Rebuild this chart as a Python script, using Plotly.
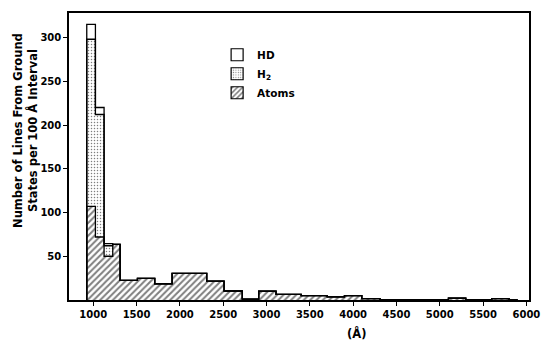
import plotly.graph_objects as go

# Wavelength bin edges (Å) and counts per bin
bin_edges = [925, 1025, 1125, 1225, 1310, 1510, 1710, 1910, 2310, 2510, 2720,
             2910, 3110, 3400, 3700, 3900, 4100, 4310, 5100, 5300, 5600, 5800, 5900]
atoms = [107, 72, 50, 63.5, 22.5, 24.7, 18.6, 30.4, 21.6, 10.3,
         1, 10, 6.5, 5, 3.5, 5, 1.5, 0.5, 2, 0.3, 1.5, 0]
h2 = [191, 140, 12, 0, 0, 0, 0, 0, 0, 0,
      0, 0, 0, 0, 0, 0, 0, 0, 0, 0, 0, 0]
hd = [17, 8, 2.5, 0, 0, 0, 0, 0, 0, 0,
      0, 0, 0, 0, 0, 0, 0, 0, 0, 0, 0, 0]

x_ticks = [1000, 1500, 2000, 2500, 3000, 3500, 4000, 4500, 5000, 5500, 6000]
y_ticks = [50, 100, 150, 200, 250, 300]

centers = [(a + b) / 2 for a, b in zip(bin_edges[:-1], bin_edges[1:])]
widths = [b - a for a, b in zip(bin_edges[:-1], bin_edges[1:])]

FONT = "DejaVu Sans"
BOLD = dict(family=FONT, size=10, color="black", weight="bold")

hatch = dict(shape="/", size=4.5, solidity=0.45, fgcolor="black", bgcolor="white",
             fillmode="overlay")
dots = dict(shape=".", size=3, solidity=0.2, fgcolor="black", bgcolor="white",
            fillmode="overlay")

fig = go.Figure()
# filled bars (no outline; outlines drawn as step lines below)
for vals, pat in ((atoms, hatch), (h2, dots), (hd, None)):
    m = dict(color="white", line=dict(width=0))
    if pat:
        m["pattern"] = pat
    fig.add_trace(go.Bar(x=centers, y=vals, width=widths, marker=m,
                         showlegend=False, hoverinfo="skip"))


def step_outline(levels):
    xs, ys = [bin_edges[0]], [0]
    for i, v in enumerate(levels):
        xs += [bin_edges[i], bin_edges[i + 1]]
        ys += [v, v]
    xs.append(bin_edges[-1])
    ys.append(0)
    return xs, ys


cum1 = atoms
cum2 = [a + b for a, b in zip(atoms, h2)]
cum3 = [a + b + c for a, b, c in zip(atoms, h2, hd)]
for lev in (cum1, cum2, cum3):
    xs, ys = step_outline(lev)
    fig.add_trace(go.Scatter(x=xs, y=ys, mode="lines",
                             line=dict(color="black", width=1.3),
                             showlegend=False, hoverinfo="skip"))

# legend entries
for name, pat in (("Atoms", hatch), ("H<sub>2</sub>", dots), ("HD", None)):
    m = dict(color="white", line=dict(color="black", width=1.2))
    if pat:
        m["pattern"] = pat
    fig.add_trace(go.Bar(x=[None], y=[None], name=name, marker=m))

fig.update_layout(
    width=551, height=340,
    margin=dict(l=69, r=17, t=11, b=40),
    barmode="stack", bargap=0,
    paper_bgcolor="white", plot_bgcolor="white",
    font=BOLD,
    showlegend=True,
    legend=dict(x=0.322, y=0.905, xanchor="left", yanchor="top",
                traceorder="reversed", bgcolor="rgba(0,0,0,0)",
                font=dict(family=FONT, size=10.5, color="black", weight="bold"),
                itemwidth=30, tracegroupgap=0),
    xaxis=dict(range=[720, 6030], tickvals=x_ticks,
               ticktext=[str(v) for v in x_ticks],
               ticks="outside", ticklen=4, tickwidth=1.2, tickcolor="black",
               showline=True, linecolor="black", linewidth=1.5, mirror=True,
               showgrid=False, zeroline=False, tickfont=BOLD),
    yaxis=dict(range=[0, 328], tickvals=y_ticks,
               ticktext=[str(v) for v in y_ticks],
               ticks="outside", ticklen=4, tickwidth=1.2, tickcolor="black",
               showline=True, linecolor="black", linewidth=1.5, mirror=True,
               showgrid=False, zeroline=False, tickfont=BOLD),
    yaxis2=dict(range=[0, 328], overlaying="y", side="right",
                tickvals=y_ticks, showticklabels=False,
                ticks="inside", ticklen=5, tickwidth=1.2, tickcolor="black",
                showline=False, showgrid=False, zeroline=False),
)

fig.add_annotation(
    text="Number of Lines From Ground<br>States per 100 Å Interval",
    xref="paper", yref="paper", x=-0.095, y=0.59,
    xanchor="center", yanchor="middle", textangle=-90,
    showarrow=False, font=dict(family=FONT, size=11.5, color="black", weight="bold"),
)
fig.add_annotation(
    text="(Å)", xref="paper", yref="paper", x=0.625, y=-0.118,
    xanchor="center", yanchor="middle", showarrow=False,
    font=dict(family=FONT, size=11.5, color="black", weight="bold"),
)

fig.write_html("out.html")
